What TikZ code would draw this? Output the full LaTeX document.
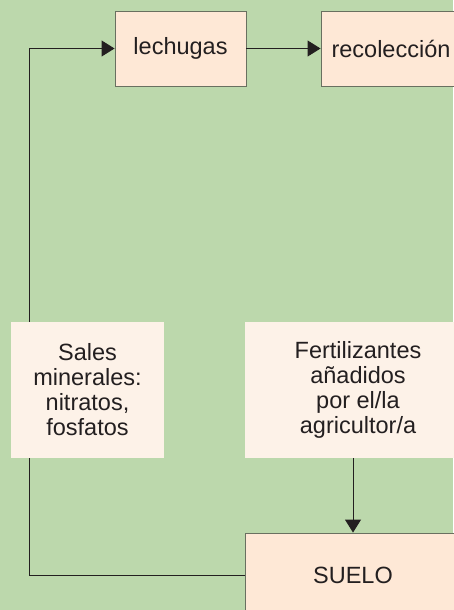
\documentclass[tikz,border=0pt]{standalone}
\usepackage{fontspec}
\setmainfont{Liberation Sans}
\usetikzlibrary{positioning, calc, arrows.meta}
\definecolor{Leaf}{RGB}{188,216,172}
\definecolor{Peach}{RGB}{254,232,214}
\definecolor{Cream}{RGB}{253,242,232}
\definecolor{Ink}{RGB}{35,31,32}
\definecolor{Edge}{RGB}{105,112,96}

\begin{document}
\begin{tikzpicture}[x=1pt, y=-1pt]
        \tikzset{ bx/.style ={draw=Edge, line width=0.9pt, text=Ink, fill=Peach, align=center, font=\fontsize{23.5}{25}\selectfont } }
        \tikzset{ nb/.style ={draw=none, text=Ink, fill=Cream, align=center, font=\fontsize{23.5}{25}\selectfont } }

        \tikzstyle{lnk}=[->, >={Triangle[length=13pt, width=16pt]}, line width=1pt, draw=Ink]
        \tikzstyle{ln}=[line width=1pt, draw=Ink]

        \newcommand\leftx{19pt}

        % background
        \fill[Leaf] (0,0) rectangle (453,610);
        \useasboundingbox (0,0) rectangle (453,610);

        \node[bx, minimum width=131pt, minimum height=75pt] (lech) at (180.5, 48.5) {lechugas};
        \node[bx, minimum width=140pt, minimum height=75pt] (recol) at (391, 48.5) {recolección};

        \node[nb, minimum width=153pt, minimum height=136pt] (sales) at (87.5, 390) {Sales\\minerales:\\nitratos,\\fosfatos};
        \node[nb, minimum width=226pt, minimum height=136pt] (fert) at (358, 390) {Fertilizantes\\añadidos\\por el/la\\agricultor/a};

        \node[bx, minimum width=216pt, minimum height=84pt] (suelo) at (353, 575) {SUELO};

        \draw[lnk] (lech.east) -- (recol.west);
        \draw[lnk] ([xshift=\leftx]sales.north west) |- (lech.west);
        \draw[ln] (suelo.west) -| ([xshift=\leftx]sales.south west);
        \draw[lnk] (fert.south -| suelo.north) -- (suelo.north);
      \end{tikzpicture}
\end{document}
